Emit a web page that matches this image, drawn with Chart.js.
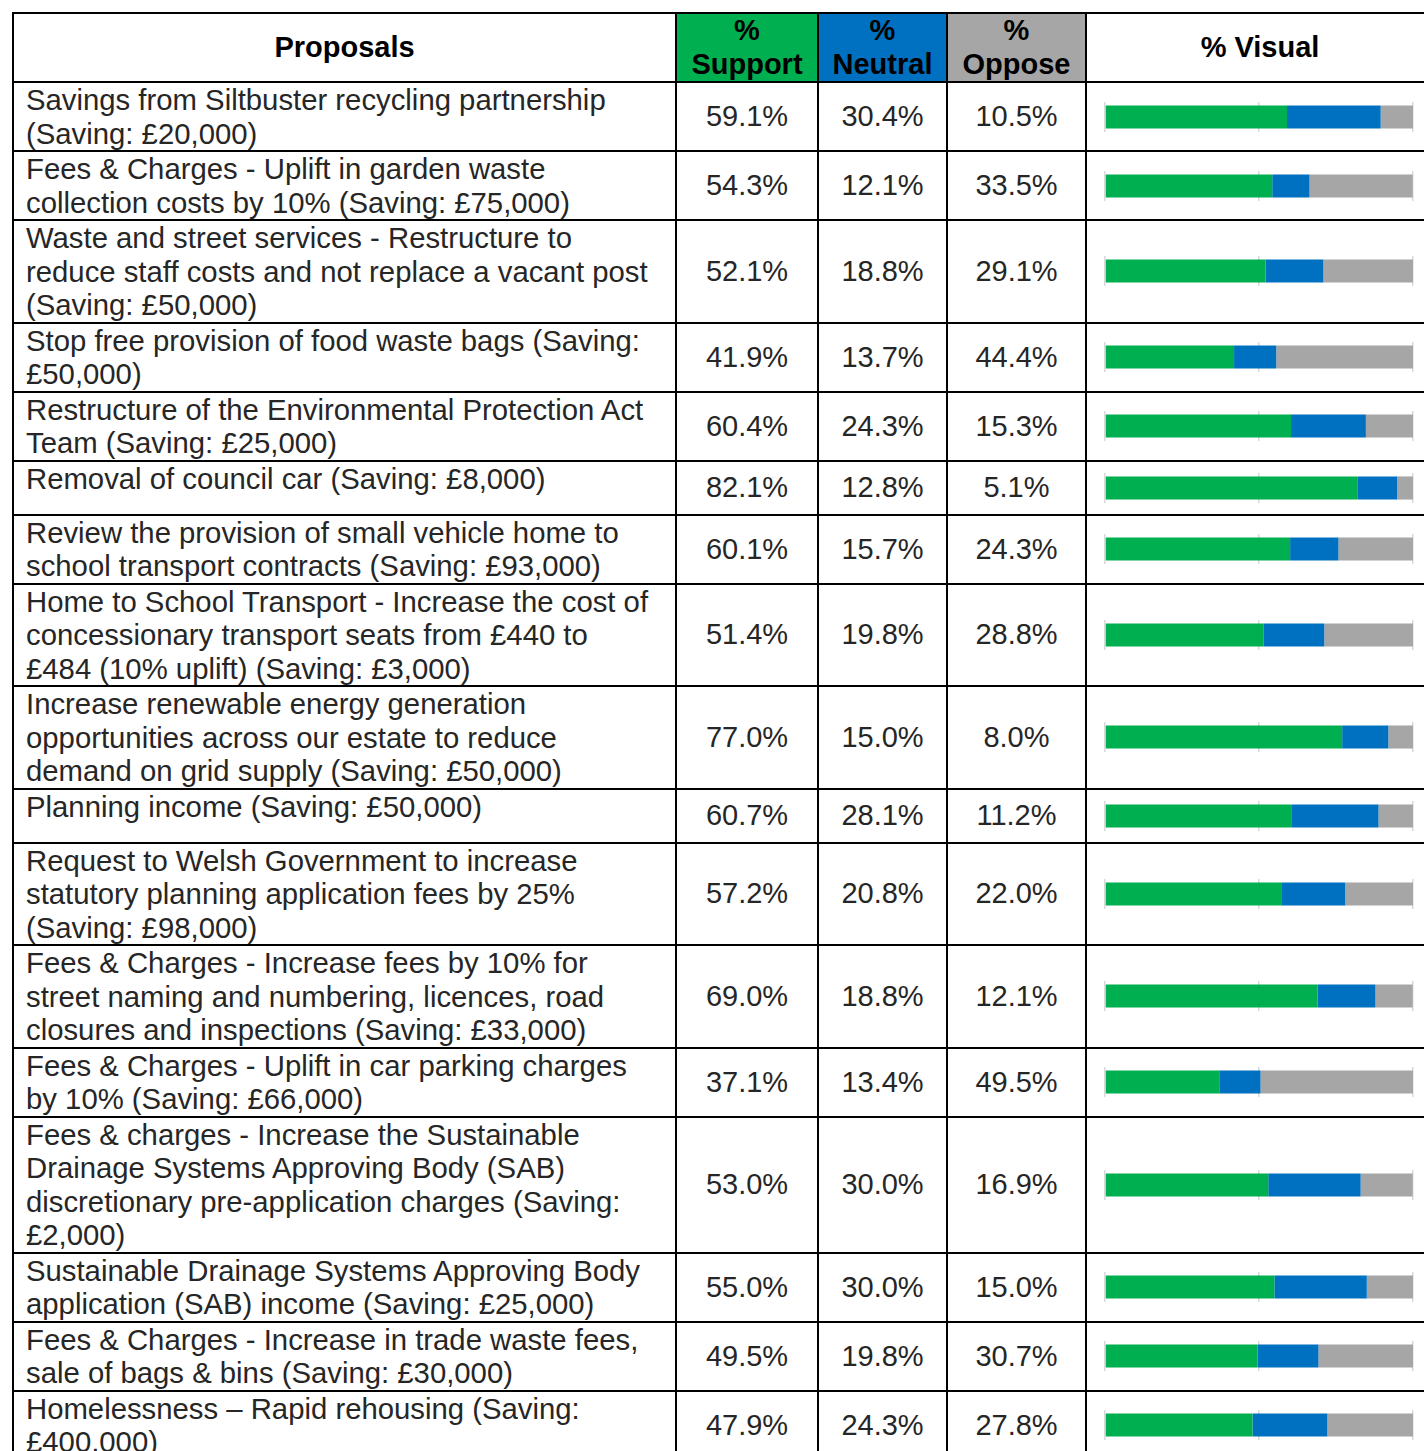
<!DOCTYPE html>
<html>
<head>
<meta charset="utf-8">
<script src="https://cdn.jsdelivr.net/npm/chart.js@4.4.1/dist/chart.umd.min.js"></script>
<style>
  body { margin: 0; background: #fff; overflow: hidden; font-family: "Liberation Sans", Arial, sans-serif; }
  table { border-collapse: collapse; table-layout: fixed; position: absolute; left: 12px; top: 12px; width: 1421px; }
  td, th { border: 2px solid #000; padding: 0; }
  th { font-weight: bold; font-size: 29px; line-height: 33.5px; color: #000; text-align: center; vertical-align: middle; }
  th.sup { background: #00B050; }
  th.neu { background: #0070C0; }
  th.opp { background: #A6A6A6; }
  td.prop { font-size: 29.3px; line-height: 33.5px; color: #262626; padding-left: 12px; vertical-align: top; white-space: pre; }
  td.num { font-size: 29px; text-align: center; vertical-align: middle; color: #262626; }
  td.vis { vertical-align: middle; padding: 11px 0 11px 16px; }
  .bar { position: relative; width: 312px; height: 30px; }
</style>
</head>
<body>
<table id="tbl">
  <colgroup>
    <col style="width:663px"><col style="width:142px"><col style="width:129px"><col style="width:139px"><col style="width:348px">
  </colgroup>
  <thead>
    <tr>
      <th>Proposals</th>
      <th class="sup">%<br>Support</th>
      <th class="neu">%<br>Neutral</th>
      <th class="opp">%<br>Oppose</th>
      <th>% Visual</th>
    </tr>
  </thead>
  <tbody id="rows"></tbody>
</table>
<script>
var proposals = [
  "Savings from Siltbuster recycling partnership\n(Saving: £20,000)",
  "Fees & Charges - Uplift in garden waste\ncollection costs by 10% (Saving: £75,000)",
  "Waste and street services - Restructure to\nreduce staff costs and not replace a vacant post\n(Saving: £50,000)",
  "Stop free provision of food waste bags (Saving:\n£50,000)",
  "Restructure of the Environmental Protection Act\nTeam (Saving: £25,000)",
  "Removal of council car (Saving: £8,000)",
  "Review the provision of small vehicle home to\nschool transport contracts (Saving: £93,000)",
  "Home to School Transport - Increase the cost of\nconcessionary transport seats from £440 to\n£484 (10% uplift) (Saving: £3,000)",
  "Increase renewable energy generation\nopportunities across our estate to reduce\ndemand on grid supply (Saving: £50,000)",
  "Planning income (Saving: £50,000)",
  "Request to Welsh Government to increase\nstatutory planning application fees by 25%\n(Saving: £98,000)",
  "Fees & Charges - Increase fees by 10% for\nstreet naming and numbering, licences, road\nclosures and inspections (Saving: £33,000)",
  "Fees & Charges - Uplift in car parking charges\nby 10% (Saving: £66,000)",
  "Fees & charges - Increase the Sustainable\nDrainage Systems Approving Body (SAB)\ndiscretionary pre-application charges (Saving:\n£2,000)",
  "Sustainable Drainage Systems Approving Body\napplication (SAB) income (Saving: £25,000)",
  "Fees & Charges - Increase in trade waste fees,\nsale of bags & bins (Saving: £30,000)",
  "Homelessness – Rapid rehousing (Saving:\n£400,000)"
];

var support = [59.1, 54.3, 52.1, 41.9, 60.4, 82.1, 60.1, 51.4, 77.0, 60.7, 57.2, 69.0, 37.1, 53.0, 55.0, 49.5, 47.9];
var neutral = [30.4, 12.1, 18.8, 13.7, 24.3, 12.8, 15.7, 19.8, 15.0, 28.1, 20.8, 18.8, 13.4, 30.0, 30.0, 19.8, 24.3];
var oppose  = [10.5, 33.5, 29.1, 44.4, 15.3, 5.1, 24.3, 28.8, 8.0, 11.2, 22.0, 12.1, 49.5, 16.9, 15.0, 30.7, 27.8];

var seriesNames = ['% Support', '% Neutral', '% Oppose'];
var seriesColors = ['#00B050', '#0070C0', '#A6A6A6'];

function numCell(tr, v) {
  var td = document.createElement('td');
  td.className = 'num';
  td.textContent = v.toFixed(1) + '%';
  tr.appendChild(td);
}

function createStackBar(canvas, i) {
  var values = [support[i], neutral[i], oppose[i]];
  new Chart(canvas.getContext('2d'), {
    type: 'bar',
    data: {
      labels: [''],
      datasets: values.map(function (v, k) {
        return { label: seriesNames[k], data: [v], backgroundColor: seriesColors[k], borderWidth: 0 };
      })
    },
    options: {
      indexAxis: 'y',
      responsive: true,
      maintainAspectRatio: false,
      animation: false,
      events: [],
      layout: { padding: { left: 2, right: 2, top: 0, bottom: 0 } },
      plugins: { legend: { display: false }, tooltip: { enabled: false } },
      datasets: { bar: { barPercentage: 1, categoryPercentage: 0.77 } },
      scales: {
        x: {
          stacked: true, min: 0, max: 100,
          ticks: { display: false, stepSize: 50 },
          grid: { color: '#d9d9d9', lineWidth: 1.5, drawTicks: false },
          border: { display: false }
        },
        y: { stacked: true, display: false }
      }
    }
  });
}

var tbody = document.getElementById('rows');
proposals.forEach(function (p, i) {
  var tr = document.createElement('tr');
  var td = document.createElement('td');
  td.className = 'prop';
  td.textContent = p;
  tr.appendChild(td);
  numCell(tr, support[i]);
  numCell(tr, neutral[i]);
  numCell(tr, oppose[i]);
  var vis = document.createElement('td');
  vis.className = 'vis';
  var box = document.createElement('div');
  box.className = 'bar';
  var canvas = document.createElement('canvas');
  box.appendChild(canvas);
  vis.appendChild(box);
  tr.appendChild(vis);
  tbody.appendChild(tr);
  createStackBar(canvas, i);
});
</script>
</body>
</html>
